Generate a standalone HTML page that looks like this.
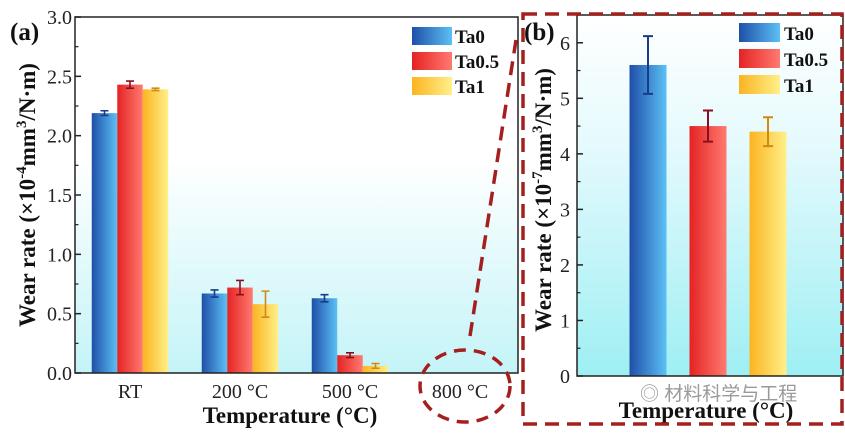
<!DOCTYPE html>
<html><head><meta charset="utf-8">
<style>
html,body{margin:0;padding:0;background:#fff;}
svg{display:block;font-family:"Liberation Serif","Noto Serif CJK SC",serif;}
</style></head>
<body>
<svg id="chart" width="845" height="434" viewBox="0 0 845 434" xmlns="http://www.w3.org/2000/svg">
<defs>
<linearGradient id="bgA" x1="0" y1="0" x2="0" y2="1">
<stop offset="0" stop-color="#ffffff"/><stop offset="0.4" stop-color="#ffffff"/><stop offset="1" stop-color="#c4f4f8"/></linearGradient>
<linearGradient id="bgB" x1="0" y1="0" x2="0" y2="1">
<stop offset="0" stop-color="#ffffff"/><stop offset="0.35" stop-color="#e6fafd"/><stop offset="1" stop-color="#9eeff3"/></linearGradient>
<linearGradient id="gBlue" x1="0" y1="0" x2="1" y2="0"><stop offset="0" stop-color="#1f4fa8"/><stop offset="1" stop-color="#5cc0f5"/></linearGradient>
<linearGradient id="gRed" x1="0" y1="0" x2="1" y2="0"><stop offset="0" stop-color="#e42323"/><stop offset="1" stop-color="#ff7a70"/></linearGradient>
<linearGradient id="gYel" x1="0" y1="0" x2="1" y2="0"><stop offset="0" stop-color="#fbb420"/><stop offset="1" stop-color="#fff08a"/></linearGradient>
</defs>
<g id="panelA"></g>
<g id="panelB"></g>
<g id="deco">
<rect x="523" y="14" width="319" height="410" fill="none" stroke="#a3201f" stroke-width="3.5" stroke-dasharray="14,8"/>
<ellipse cx="465" cy="386" rx="45" ry="36" fill="none" stroke="#a3201f" stroke-width="3.5" stroke-dasharray="12,8"/>
<line x1="470" y1="336" x2="516" y2="40" stroke="#a3201f" stroke-width="3.5" stroke-dasharray="14,8"/>
<text x="640" y="400" font-size="19" fill="#9a9a9a" font-family="Liberation Sans,Noto Sans CJK SC,sans-serif">◎ 材料科学与工程</text>
</g>
</svg>
<script>
const series = ["Ta0","Ta0.5","Ta1"];
const catsA = ["RT","200 °C","500 °C","800 °C"];
const ta0A = [2.19,0.67,0.63,0.003];
const ta05A = [2.43,0.72,0.15,0.002];
const ta1A = [2.39,0.58,0.06,0.002];
const errTa0A = [0.02,0.03,0.03,0];
const errTa05A = [0.03,0.06,0.02,0];
const errTa1A = [0.01,0.11,0.02,0];
const ticksA = ["0.0","0.5","1.0","1.5","2.0","2.5","3.0"];
const valsB = [5.6,4.5,4.4];
const errB = [0.52,0.28,0.26];
const ticksB = ["0","1","2","3","4","5","6"];

const NS="http://www.w3.org/2000/svg";
const fills=["url(#gBlue)","url(#gRed)","url(#gYel)"];
const errCol=["#1a3a8a","#8a1020","#d08a10"];
function mk(parent,tag,attrs){const e=document.createElementNS(NS,tag);for(const k in attrs)e.setAttribute(k,attrs[k]);parent.appendChild(e);return e;}

// Panel A
(function(){
 const g=document.getElementById('panelA');
 const L=75,R=518,T=17,B=373,ymax=3;
 const y=v=>B-(v/ymax)*(B-T);
 const cx=i=>130+i*110;
 const bw=25.5;
 let r=mk(g,'rect',{x:L,y:T,width:R-L,height:B-T,fill:'url(#bgA)'});
 
 const data=[ta0A,ta05A,ta1A],errs=[errTa0A,errTa05A,errTa1A];
 catsA.forEach((c,i)=>{
  data.forEach((d,s)=>{
   const x0=cx(i)-1.5*bw+s*bw;
   const b=mk(g,'rect',{x:x0,y:y(d[i]),width:bw,height:B-y(d[i]),fill:fills[s]});
   
   
   const e=errs[s][i];
   if(e>0){
    const xc=x0+bw/2;
    const p=mk(g,'path',{d:`M${xc},${y(d[i]-e)}V${y(d[i]+e)}M${xc-4},${y(d[i]+e)}H${xc+4}M${xc-4},${y(d[i]-e)}H${xc+4}`,stroke:errCol[s],'stroke-width':1.6,fill:'none'});
    
   }
  });
  const t=mk(g,'text',{x:cx(i),y:398,'font-size':20,'text-anchor':'middle',fill:'#222'});t.textContent=c;
  
 });
 r=mk(g,'rect',{x:L,y:T,width:R-L,height:B-T,fill:'none',stroke:'#222','stroke-width':1.5});
 
 ticksA.forEach((t,i)=>{
  const v=parseFloat(t),yy=y(v);
  mk(g,'line',{x1:L,x2:L+6,y1:yy,y2:yy,stroke:'#222','stroke-width':1.5});
  if(i<ticksA.length-1) mk(g,'line',{x1:L,x2:L+3.5,y1:y(v+0.25),y2:y(v+0.25),stroke:'#222','stroke-width':1.2});
  const tx=mk(g,'text',{x:L-3,y:yy+7,'font-size':20,'text-anchor':'end',fill:'#222'});tx.textContent=t;
  
 });
 let t=mk(g,'text',{x:290,y:423,'font-size':23,'font-weight':'bold','text-anchor':'middle',fill:'#111'});t.textContent='Temperature (°C)';
 
 t=mk(g,'text',{x:0,y:0,'font-size':23,'font-weight':'bold','text-anchor':'middle',fill:'#111',transform:'translate(35,195) rotate(-90)'});
 t.innerHTML='Wear rate (×10<tspan dy="-9" font-size="15">-4</tspan><tspan dy="9">mm</tspan><tspan dy="-9" font-size="15">3</tspan><tspan dy="9">/N·m)</tspan>';
 
 t=mk(g,'text',{x:10,y:40,'font-size':25,'font-weight':'bold',fill:'#111'});t.textContent='(a)';
 
 series.forEach((s,i)=>{
  const sw=mk(g,'rect',{x:412,y:27+i*25,width:40,height:18,fill:fills[i]});
  
  const lt=mk(g,'text',{x:455,y:43+i*25,'font-size':19,'font-weight':'bold',fill:'#111'});lt.textContent=s;
  
 });
})();

// Panel B
(function(){
 const g=document.getElementById('panelB');
 const L=577,R=843,T=15,B=376,ymax=6.5;
 const y=v=>B-(v/ymax)*(B-T);
 const cxs=[648,708,768],bw=37;
 let r=mk(g,'rect',{x:L,y:T,width:R-L,height:B-T,fill:'url(#bgB)'});
 
 valsB.forEach((v,i)=>{
  const b=mk(g,'rect',{x:cxs[i]-bw/2,y:y(v),width:bw,height:B-y(v),fill:fills[i]});
  
  const e=errB[i],xc=cxs[i];
  const p=mk(g,'path',{d:`M${xc},${y(v-e)}V${y(v+e)}M${xc-5},${y(v+e)}H${xc+5}M${xc-5},${y(v-e)}H${xc+5}`,stroke:errCol[i],'stroke-width':2,fill:'none'});
  
 });
 r=mk(g,'rect',{x:L,y:T,width:R-L,height:B-T,fill:'none',stroke:'#222','stroke-width':1.5});
 
 ticksB.forEach((t,i)=>{
  const v=parseFloat(t),yy=y(v);
  mk(g,'line',{x1:L,x2:L+6,y1:yy,y2:yy,stroke:'#222','stroke-width':1.5});
  mk(g,'line',{x1:L,x2:L+3.5,y1:y(v+0.5),y2:y(v+0.5),stroke:'#222','stroke-width':1.2});
  const tx=mk(g,'text',{x:L-7,y:yy+7,'font-size':20,'text-anchor':'end',fill:'#222'});tx.textContent=t;
  
 });
 let t=mk(g,'text',{x:706,y:418,'font-size':23,'font-weight':'bold','text-anchor':'middle',fill:'#111'});t.textContent='Temperature (°C)';
 
 t=mk(g,'text',{x:0,y:0,'font-size':23,'font-weight':'bold','text-anchor':'middle',fill:'#111',transform:'translate(551,200) rotate(-90)'});
 t.innerHTML='Wear rate (×10<tspan dy="-9" font-size="15">-7</tspan><tspan dy="9">mm</tspan><tspan dy="-9" font-size="15">3</tspan><tspan dy="9">/N·m)</tspan>';
 
 t=mk(g,'text',{x:524,y:40,'font-size':25,'font-weight':'bold',fill:'#111'});t.textContent='(b)';
 
 series.forEach((s,i)=>{
  const sw=mk(g,'rect',{x:739,y:23+i*26,width:41,height:19,fill:fills[i]});
  
  const lt=mk(g,'text',{x:784,y:40+i*26,'font-size':19,'font-weight':'bold',fill:'#111'});lt.textContent=s;
  
 });
})();
</script>
</body></html>
